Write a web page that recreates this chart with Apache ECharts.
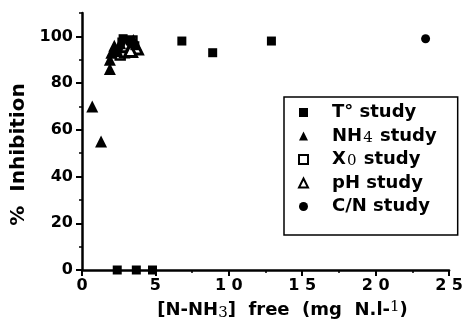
<!DOCTYPE html>
<html>
<head>
<meta charset="utf-8">
<script src="https://cdn.jsdelivr.net/npm/echarts@6/dist/echarts.min.js"></script>
<style>html,body{margin:0;padding:0;background:#fff;}#c{width:466px;height:331px;}</style>
</head>
<body>
<div id="c"></div>
<script>
// ---- data ----
var tStudyX = [2.4, 3.7, 4.8, 6.8, 8.9, 12.9, 2.3, 2.8, 3.3, 3.6];
var tStudyY = [0, 0, 0, 98, 93, 98, 93, 99, 98, 96];
var nh4X = [0.7, 1.3, 1.9, 1.9, 2.0, 2.2, 2.4, 2.6];
var nh4Y = [70, 55, 86, 90, 93, 96, 94, 97];
var x0X = [2.6, 2.8, 3.1, 3.4, 2.9];
var x0Y = [92, 97, 95, 98, 93];
var phX = [3.0, 3.5, 3.7, 3.3];
var phY = [96, 97, 95, 94];
var cnX = [23.4];
var cnY = [99];
var xTicks = [0, 5, 10, 15, 20, 25];
var yTicks = [0, 20, 40, 60, 80, 100];
var yMinorTicks = [10, 30, 50, 70, 90, 110];
var seriesNames = ['T° study', 'NH4 study', 'X0 study', 'pH study', 'C/N study'];

function pairs(xs, ys) { return xs.map(function (x, i) { return [x, ys[i]]; }); }

var FONT = 'DejaVu Sans';
var chart = echarts.init(document.getElementById('c'), null, {renderer: 'canvas'});

var legendLabels = {
  'T° study': 'T° study',
  'NH4 study': 'NH{sub|4} study',
  'X0 study': 'X{sub|0} study',
  'pH study': 'pH study',
  'C/N study': 'C/N study'
};

chart.setOption({
  backgroundColor: '#fff',
  animation: false,
  grid: {left: 82, right: 14, top: 13, bottom: 61, containLabel: false},
  legend: {
    orient: 'vertical',
    left: 284,
    top: 97,
    padding: [6, 21, 19, 14],
    itemGap: 4.5,
    itemWidth: 9,
    itemHeight: 9,
    borderColor: '#000',
    borderWidth: 1.5,
    data: seriesNames,
    formatter: function (n) { return legendLabels[n]; },
    textStyle: {
      fontFamily: FONT, fontWeight: 'bold', fontSize: 18, color: '#000',
      lineHeight: 19, padding: [0, 0, 0, 19],
      rich: {
        sub: {fontFamily: 'DejaVu Serif', fontWeight: 'normal', fontSize: 15, verticalAlign: 'bottom', padding: [6, 1, 0, 1], color: '#000'}
      }
    }
  },
  xAxis: {
    type: 'value', min: 0, max: 25, interval: 5,
    name: '[N-NH{sub|3}]  free  (mg  N.l-{sup|1})',
    nameLocation: 'middle', nameGap: 30,
    nameTextStyle: {
      fontFamily: FONT, fontWeight: 'bold', fontSize: 18, color: '#000',
      padding: [0, 0, 0, 34],
      rich: {
        sub: {fontFamily: 'DejaVu Serif', fontSize: 15, fontWeight: 'normal', verticalAlign: 'bottom', padding: [6, 0, 0, 0], color: '#000'},
        sup: {fontFamily: 'DejaVu Serif', fontSize: 15, fontWeight: 'normal', verticalAlign: 'top', padding: [0, 0, 4, 0], color: '#000'}
      }
    },
    axisLine: {lineStyle: {color: '#000', width: 2.5}},
    axisTick: {length: 6, lineStyle: {color: '#000', width: 2}},
    minorTick: {show: true, splitNumber: 2, length: 3, lineStyle: {color: '#000', width: 1.5}},
    splitLine: {show: false},
    axisLabel: {
      margin: 8, color: '#000', fontFamily: FONT, fontWeight: 'bold', fontSize: 16,
      customValues: xTicks,
      formatter: function (v) { return String(v).split('').join(' '); }
    }
  },
  yAxis: [{
    type: 'value', min: 0, max: 110,
    name: '%  Inhibition',
    nameLocation: 'middle', nameGap: 51, nameRotate: 90,
    nameTextStyle: {fontFamily: FONT, fontWeight: 'bold', fontSize: 20, color: '#000', padding: [0, 26, 0, 0]},
    axisLine: {lineStyle: {color: '#000', width: 2.5}},
    axisTick: {length: 6, customValues: yTicks, lineStyle: {color: '#000', width: 2}},
    splitLine: {show: false},
    axisLabel: {margin: 9, customValues: yTicks, color: '#000', fontFamily: FONT, fontWeight: 'bold', fontSize: 16}
  }, {
    type: 'value', min: 0, max: 110, position: 'left',
    axisLine: {show: false},
    axisTick: {show: true, length: 3, customValues: yMinorTicks, lineStyle: {color: '#000', width: 1.5}},
    axisLabel: {show: false, customValues: yMinorTicks},
    splitLine: {show: false}
  }],
  series: [
    {name: seriesNames[0], type: 'scatter', symbol: 'rect', symbolSize: 9,
     itemStyle: {color: '#000', opacity: 1}, data: pairs(tStudyX, tStudyY), z: 5},
    {name: seriesNames[1], type: 'scatter', symbol: 'triangle', symbolSize: 12,
     itemStyle: {color: '#000', opacity: 1}, data: pairs(nh4X, nh4Y), z: 5},
    {name: seriesNames[2], type: 'scatter', symbol: 'rect', symbolSize: 9,
     itemStyle: {color: '#fff', borderColor: '#000', borderWidth: 2.5, opacity: 1}, data: pairs(x0X, x0Y), z: 3},
    {name: seriesNames[3], type: 'scatter', symbol: 'triangle', symbolSize: 12,
     itemStyle: {color: '#fff', borderColor: '#000', borderWidth: 3, opacity: 1}, data: pairs(phX, phY), z: 3},
    {name: seriesNames[4], type: 'scatter', symbol: 'circle', symbolSize: 9,
     itemStyle: {color: '#000', opacity: 1}, data: pairs(cnX, cnY), z: 5}
  ]
});
</script>
</body>
</html>
